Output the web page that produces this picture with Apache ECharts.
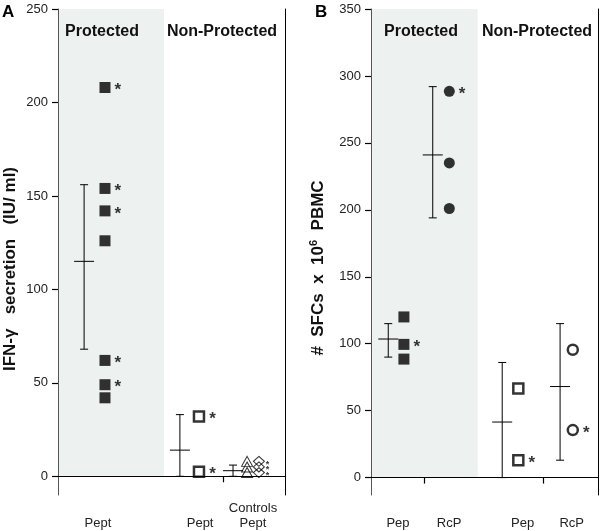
<!DOCTYPE html>
<html>
<head>
<meta charset="utf-8">
<script src="https://cdn.jsdelivr.net/npm/echarts@6/dist/echarts.min.js"></script>
<style>html,body{margin:0;padding:0;background:#fff}#c{width:600px;height:531px}</style>
</head>
<body>
<div id="c"></div>
<script>
// ---------- DATA (panel A: IFN-gamma secretion, IU/ml) ----------
const yTicksA = [0, 50, 100, 150, 200, 250];
const xLabelsA = ['Pept', 'Pept', 'Controls\nPept'];
const protectedA = [208, 154, 142, 126, 62, 49, 42];
const protectedAStar = [1, 1, 1, 0, 1, 1, 0];
const nonProtA = [32, 2.5];
const nonProtAStar = [1, 1];
const ctrlTriA = [8, 5, 2];
const ctrlDiaA = [8, 5, 2];
const ctrlStarA = [7.5, 4.5, 1.5];
// [low, mean, high]
const statsProtA = [68, 115, 156];
const statsNonProtA = [0, 14, 33];
const statsCtrlA = [0, 3, 6];

// ---------- DATA (panel B: # SFCs x 10^6 PBMC) ----------
const yTicksB = [0, 50, 100, 150, 200, 250, 300, 350];
const xLabelsB = ['Pep', 'RcP', 'Pep', 'RcP'];
const protPepB = [120, 99.5, 88.5];
const protPepBStar = [0, 1, 0];
const protRcpB = [288.5, 235, 201];
const protRcpBStar = [1, 0, 0];
const npPepB = [66.5, 13];
const npPepBStar = [0, 1];
const npRcpB = [95.5, 35.5];
const npRcpBStar = [0, 1];
const statsProtPepB = [90, 103.5, 115];
const statsProtRcpB = [194, 241, 292];
const statsNpPepB = [0, 41.5, 86];
const statsNpRcpB = [13, 68, 115];

const sectionTitles = ['Protected', 'Non-Protected'];
const yTitleA = 'IFN-\u03b3   secretion   (IU/ ml)';
const yTitleB = '#  SFCs  x  10{sup|6}  PBMC';

// ---------- LAYOUT (x positions in axis units 0..100) ----------
const LA = { protErr: 11.5, prot: 20.7, shade: 46.7, npErr: 53.7, np: 62.1, tick: 72.7,
             ctrlErr: 77.1, tri: 83.3, dia: 88.5, ast: 92.3, labels: [17.6, 62.6, 85.9] };
const LB = { ppErr: 7.6, pp: 14.5, prErr: 27.2, pr: 34.5, shade: 47, npErr: 57.8, np: 64.9,
             nrErr: 83.3, nr: 88.9, ticks: [23.3, 75.8], labels: [11.9, 34.4, 66.8, 88.4] };

const FONT = '"Liberation Sans", Arial, Helvetica, sans-serif';
const SHADE = '#edf1ef';

function pts(x, vals, stars) { return vals.map((v, i) => [x, v, stars ? stars[i] : 0]); }
function errItem(x, s) { return [x, s[0], s[1], s[2]]; }

function renderErr(params, api) {
  const x = api.value(0);
  const pLo = api.coord([x, api.value(1)]);
  const pM = api.coord([x, api.value(2)]);
  const pHi = api.coord([x, api.value(3)]);
  const st = { stroke: '#000', lineWidth: 1 };
  const cap = 4, mh = 10;
  return { type: 'group', children: [
    { type: 'line', shape: { x1: pLo[0], y1: pLo[1], x2: pHi[0], y2: pHi[1] }, style: st },
    { type: 'line', shape: { x1: pHi[0] - cap, y1: pHi[1], x2: pHi[0] + cap, y2: pHi[1] }, style: st },
    { type: 'line', shape: { x1: pLo[0] - cap, y1: pLo[1], x2: pLo[0] + cap, y2: pLo[1] }, style: st },
    { type: 'line', shape: { x1: pM[0] - mh, y1: pM[1], x2: pM[0] + mh, y2: pM[1] }, style: st }
  ]};
}

const starLabel = {
  show: true, position: 'right', distance: 4, offset: [0, 3],
  formatter: p => (p.value[2] ? '*' : ''), fontSize: 17, fontWeight: 'bold', color: '#000', fontFamily: FONT
};
const filledSq = { symbol: 'rect', symbolSize: 11, itemStyle: { color: '#000' } };
const openSq = { symbol: 'rect', symbolSize: 10, itemStyle: { color: '#fff', borderColor: '#000', borderWidth: 2.5 } };
const filledCi = { symbol: 'circle', symbolSize: 11, itemStyle: { color: '#000' } };
const openCi = { symbol: 'circle', symbolSize: 10, itemStyle: { color: '#fff', borderColor: '#000', borderWidth: 2.5 } };

function yAxisCfg(grid, min, max, ticks) {
  return {
    gridIndex: grid, type: 'value', min: min, max: max, z: 5,
    axisLine: { show: true, onZero: false, lineStyle: { color: '#555', width: 1 } },
    axisTick: { show: true, customValues: ticks, length: 6, lineStyle: { color: '#000', width: 1.2 } },
    axisLabel: { customValues: ticks, fontSize: 13, color: '#222', margin: 10, fontFamily: FONT },
    splitLine: { show: false }
  };
}
function rightAxis(grid, min, max) {
  return { gridIndex: grid, type: 'value', min: min, max: max, position: 'right', z: 5,
    axisLine: { show: true, onZero: false, lineStyle: { color: '#000' } },
    axisTick: { show: false }, axisLabel: { show: false }, splitLine: { show: false } };
}
function xAxisCfg(grid, tickVals, labelVals, labels) {
  return {
    gridIndex: grid, type: 'value', min: 0, max: 100, z: 5,
    axisLine: { show: true, onZero: true, lineStyle: { color: '#000', width: 1 } },
    axisTick: { show: true, customValues: tickVals, length: 6, lineStyle: { color: '#000', width: 1.2 } },
    axisLabel: { customValues: labelVals, formatter: v => labels[labelVals.indexOf(v)] || '',
      fontSize: 13, color: '#222', margin: 36, verticalAlign: 'bottom', lineHeight: 15, fontFamily: FONT },
    splitLine: { show: false }
  };
}
function sectionText(x, t) {
  return { type: 'text', x: x, y: 32, z: 100,
    style: { text: t, font: 'bold 16px ' + FONT, fill: '#111', align: 'center', verticalAlign: 'middle' } };
}

const chart = echarts.init(document.getElementById('c'), null, { renderer: 'canvas' });
const option = {
  animation: false,
  backgroundColor: '#fff',
  grid: [
    { left: 58, top: 9, width: 227, height: 504 },
    { left: 371, top: 9, width: 227, height: 504 }
  ],
  xAxis: [
    xAxisCfg(0, [LA.tick], LA.labels, xLabelsA),
    xAxisCfg(1, LB.ticks, LB.labels, xLabelsB)
  ],
  yAxis: [
    yAxisCfg(0, -10, 250, yTicksA),
    rightAxis(0, -10, 250),
    yAxisCfg(1, -13, 350, yTicksB),
    rightAxis(1, -13, 350)
  ],
  graphic: [
    { type: 'text', left: 2, top: 4, z: 100, style: { text: 'A', font: 'bold 17px ' + FONT, fill: '#000' } },
    { type: 'text', left: 315, top: 4, z: 100, style: { text: 'B', font: 'bold 17px ' + FONT, fill: '#000' } },
    sectionText(102, sectionTitles[0]),
    sectionText(222, sectionTitles[1]),
    sectionText(421, sectionTitles[0]),
    sectionText(537, sectionTitles[1]),
    { type: 'text', x: 10, y: 269, rotation: Math.PI / 2, z: 100,
      style: { text: yTitleA, font: 'bold 17px ' + FONT, fill: '#111', align: 'center', verticalAlign: 'middle' } },
    { type: 'text', x: 318, y: 268, rotation: Math.PI / 2, z: 100,
      style: { text: yTitleB, font: 'bold 17px ' + FONT, fill: '#111', align: 'center', verticalAlign: 'middle',
        rich: { sup: { font: 'bold 11px ' + FONT, fill: '#111', verticalAlign: 'top', padding: [0, 0, 9, 0] } } } }
  ],
  series: [
    // shading
    { type: 'line', xAxisIndex: 0, yAxisIndex: 0, data: [], z: 1, silent: true,
      markArea: { silent: true, itemStyle: { color: SHADE }, data: [[{ coord: [0, 0] }, { coord: [LA.shade, 250] }]] } },
    { type: 'line', xAxisIndex: 1, yAxisIndex: 2, data: [], z: 1, silent: true,
      markArea: { silent: true, itemStyle: { color: SHADE }, data: [[{ coord: [0, 0] }, { coord: [LB.shade, 350] }]] } },
    // panel A error bars
    { type: 'custom', xAxisIndex: 0, yAxisIndex: 0, renderItem: renderErr, z: 3,
      data: [errItem(LA.protErr, statsProtA), errItem(LA.npErr, statsNonProtA), errItem(LA.ctrlErr, statsCtrlA)] },
    // panel A points
    Object.assign({ type: 'scatter', xAxisIndex: 0, yAxisIndex: 0, z: 4, data: pts(LA.prot, protectedA, protectedAStar), label: starLabel }, filledSq),
    Object.assign({ type: 'scatter', xAxisIndex: 0, yAxisIndex: 0, z: 4, data: pts(LA.np, nonProtA, nonProtAStar), label: starLabel }, openSq),
    { type: 'scatter', xAxisIndex: 0, yAxisIndex: 0, z: 4, symbol: 'triangle', symbolSize: [11, 10],
      itemStyle: { color: 'rgba(255,255,255,0)', borderColor: '#000', borderWidth: 1 }, data: pts(LA.tri, ctrlTriA) },
    { type: 'scatter', xAxisIndex: 0, yAxisIndex: 0, z: 4, symbol: 'diamond', symbolSize: [11, 10],
      itemStyle: { color: 'rgba(255,255,255,0)', borderColor: '#000', borderWidth: 1 }, data: pts(LA.dia, ctrlDiaA) },
    { type: 'scatter', xAxisIndex: 0, yAxisIndex: 0, z: 4, symbolSize: 0, data: pts(LA.ast, ctrlStarA),
      label: { show: true, position: 'inside', formatter: '*', fontSize: 9, fontWeight: 'bold', color: '#000', offset: [0, 2] } },
    // panel B error bars
    { type: 'custom', xAxisIndex: 1, yAxisIndex: 2, renderItem: renderErr, z: 3,
      data: [errItem(LB.ppErr, statsProtPepB), errItem(LB.prErr, statsProtRcpB), errItem(LB.npErr, statsNpPepB), errItem(LB.nrErr, statsNpRcpB)] },
    // panel B points
    Object.assign({ type: 'scatter', xAxisIndex: 1, yAxisIndex: 2, z: 4, data: pts(LB.pp, protPepB, protPepBStar), label: starLabel }, filledSq),
    Object.assign({ type: 'scatter', xAxisIndex: 1, yAxisIndex: 2, z: 4, data: pts(LB.pr, protRcpB, protRcpBStar), label: starLabel }, filledCi),
    Object.assign({ type: 'scatter', xAxisIndex: 1, yAxisIndex: 2, z: 4, data: pts(LB.np, npPepB, npPepBStar), label: starLabel }, openSq),
    Object.assign({ type: 'scatter', xAxisIndex: 1, yAxisIndex: 2, z: 4, data: pts(LB.nr, npRcpB, npRcpBStar), label: starLabel }, openCi)
  ]
};
chart.setOption(option);
</script>
</body>
</html>
